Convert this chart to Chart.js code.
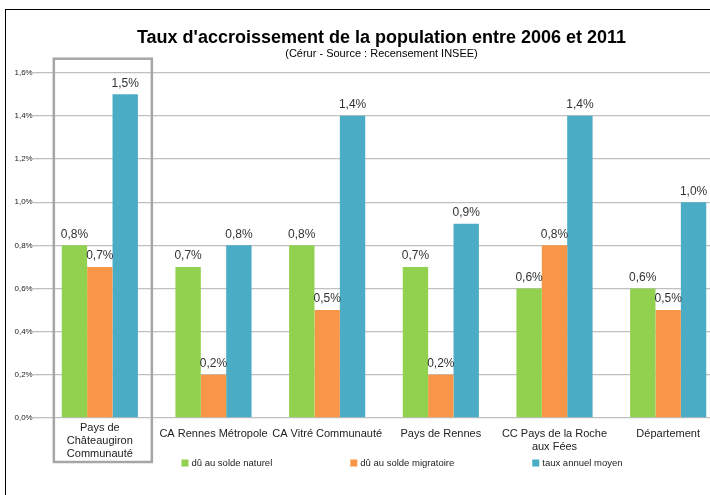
<!DOCTYPE html>
<html>
<head>
<meta charset="utf-8">
<script src="https://cdn.jsdelivr.net/npm/chart.js@4/dist/chart.umd.min.js"></script>
<style>
  html, body { margin: 0; padding: 0; background: #fff; overflow: hidden; }
  body { width: 710px; height: 495px; position: relative; }
  .frame { position: absolute; left: 5px; top: 9px; width: 800px; height: 600px; border: 1.5px solid #000; box-sizing: border-box; }
  .wrap { position: absolute; left: 7px; top: 11px; width: 748px; height: 484px; }
</style>
</head>
<body>
<div class="frame"></div>
<div class="wrap"><canvas id="chart"></canvas></div>
<script>
// Taux d'accroissement de la population 2006-2011

const categories = [
  ['Pays de', 'Châteaugiron', 'Communauté'],
  'CA Rennes Métropole',
  'CA Vitré Communauté',
  'Pays de Rennes',
  ['CC Pays de la Roche', 'aux Fées'],
  'Département'
];
const soldeNaturel    = [0.8, 0.7, 0.8, 0.7, 0.6, 0.6];
const soldeMigratoire = [0.7, 0.2, 0.5, 0.2, 0.8, 0.5];
const tauxAnnuel      = [1.5, 0.8, 1.4, 0.9, 1.4, 1.0];
const seriesLabels = ['dû au solde naturel', 'dû au solde migratoire', 'taux annuel moyen'];
const yMin = 0, yMax = 1.6, yStep = 0.2;

const COLORS = ['#92D050', '#F79646', '#4BACC6'];
const FONT = "'Liberation Sans', Arial, sans-serif";

const fmt = v => v.toFixed(1).replace('.', ',') + '%';

// value labels above bars
const barLabels = {
  id: 'barLabels',
  afterDatasetsDraw(chart) {
    const ctx = chart.ctx;
    ctx.save();
    ctx.font = '12px ' + FONT;
    ctx.fillStyle = '#333';
    ctx.textAlign = 'center';
    ctx.textBaseline = 'bottom';
    chart.data.datasets.forEach((ds, i) => {
      chart.getDatasetMeta(i).data.forEach((bar, j) => {
        ctx.fillText(fmt(ds.data[j]), bar.x, bar.y - 5);
      });
    });
    ctx.restore();
  }
};

// gray box around first group, its (taller) label, and the legend
const extras = {
  id: 'extras',
  afterDraw(chart) {
    const ctx = chart.ctx;
    const area = chart.chartArea;
    const x0 = chart.scales.x.getPixelForValue(0);
    ctx.save();
    ctx.strokeStyle = '#a6a6a6';
    ctx.lineWidth = 2.5;
    ctx.strokeRect(x0 - 46, area.top - 14, 98, area.bottom - area.top + 58);

    // first category label sits higher than the others
    ctx.font = '11px ' + FONT;
    ctx.fillStyle = '#222';
    ctx.textAlign = 'center';
    ctx.textBaseline = 'middle';
    categories[0].forEach((line, k) => ctx.fillText(line, x0, area.bottom + 9.5 + k * 13));

    ctx.font = '9.5px ' + FONT;
    ctx.textAlign = 'left';
    const gap = 78, box = 7, boxGap = 3;
    const widths = seriesLabels.map(t => box + boxGap + ctx.measureText(t).width);
    const total = widths.reduce((a, b) => a + b, 0) + gap * (widths.length - 1);
    let x = (area.left + area.right) / 2 + 18 - total / 2;
    const y = area.bottom + 45;
    seriesLabels.forEach((t, i) => {
      ctx.fillStyle = COLORS[i];
      ctx.fillRect(x, y - box / 2, box, box);
      ctx.fillStyle = '#222';
      ctx.fillText(t, x + box + boxGap, y);
      x += widths[i] + gap;
    });
    ctx.restore();
  }
};

new Chart(document.getElementById('chart'), {
  type: 'bar',
  data: {
    labels: categories,
    datasets: [
      { label: seriesLabels[0], data: soldeNaturel, backgroundColor: COLORS[0] },
      { label: seriesLabels[1], data: soldeMigratoire, backgroundColor: COLORS[1] },
      { label: seriesLabels[2], data: tauxAnnuel, backgroundColor: COLORS[2] }
    ]
  },
  options: {
    responsive: true, maintainAspectRatio: false, animation: false,
    categoryPercentage: 0.67, barPercentage: 1,
    layout: { padding: { left: 31, right: 30, top: 0, bottom: 0 } },
    plugins: {
      legend: { display: false },
      tooltip: { enabled: false },
      title: {
        display: true,
        text: "Taux d'accroissement de la population entre 2006 et 2011",
        color: '#000',
        font: { family: FONT, size: 18, weight: 'bold', lineHeight: 1.2 },
        padding: { top: 16, bottom: 0 }
      },
      subtitle: {
        display: true,
        text: '(Cérur - Source : Recensement INSEE)',
        color: '#000',
        font: { family: FONT, size: 11, lineHeight: 1.0 },
        padding: { top: 0, bottom: 13.1 }
      }
    },
    scales: {
      x: {
        grid: { display: false },
        border: { display: false },
        ticks: { color: ctx => ctx.index === 0 ? 'rgba(0,0,0,0)' : '#222',
                 padding: 1.5, maxRotation: 0, autoSkip: false,
                 font: { family: FONT, size: 11, lineHeight: 1.18 } },
        afterFit(s) { s.height = 77; }
      },
      y: {
        min: yMin, max: yMax,
        grid: { color: '#c0c0c0', lineWidth: 1.3, drawTicks: true, tickLength: 10, tickColor: '#c0c0c0' },
        border: { display: false },
        // mirrored so the labels are not clipped to the narrow axis box
        ticks: { stepSize: yStep, color: '#222', mirror: true, padding: -28.5,
                 font: { family: FONT, size: 8 }, callback: v => fmt(v) },
        afterFit(s) { s.width = 5; }
      }
    }
  },
  plugins: [barLabels, extras]
});
</script>
</body>
</html>
